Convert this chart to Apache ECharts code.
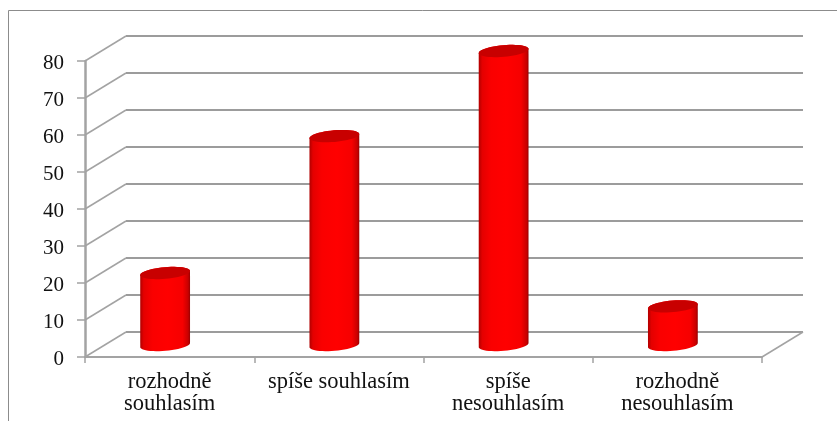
<!DOCTYPE html>
<html><head><meta charset="utf-8">
<style>html,body{margin:0;padding:0;background:#fff}#c{width:837px;height:421px}</style>
<script src="https://cdn.jsdelivr.net/npm/echarts@6/dist/echarts.min.js"></script>
</head><body><div id="c"></div>
<script>
const categories = ['rozhodně\nsouhlasím','spíše souhlasím','spíše\nnesouhlasím','rozhodně\nnesouhlasím'];
const values = [20, 57, 80, 11];
const yTicks = [0,10,20,30,40,50,60,70,80];

const DX = 41, DY = -25;          // depth of the 3D box
const GRAY = '#a3a3a3';
const chart = echarts.init(document.getElementById('c'), null, {renderer:'canvas'});

function wallLines(params, api){
  const v = api.value(0);
  const a = api.coord([0, v]);
  const x0 = params.coordSys.x, x1 = x0 + params.coordSys.width;
  const y = a[1];
  const kids = [
    {type:'line',shape:{x1:x0,y1:y,x2:x0+DX,y2:y+DY},style:{stroke:GRAY,lineWidth:1.5}},
    {type:'line',shape:{x1:x0+DX,y1:y+DY,x2:x1+DX,y2:y+DY},style:{stroke:'#9c9c9c',lineWidth:2}}
  ];
  if (v === 0) kids.push({type:'line',shape:{x1:x1,y1:y,x2:x1+DX,y2:y+DY},style:{stroke:GRAY,lineWidth:1.5}});
  return {type:'group',children:kids,silent:true};
}

function ellipsePts(cx,cy,rx,ry,rot,from,to,n){
  const out=[];
  for(let i=0;i<=n;i++){
    const t=from+(to-from)*i/n;
    const ex=rx*Math.cos(t), ey=ry*Math.sin(t);
    out.push([cx+ex*Math.cos(rot)-ey*Math.sin(rot), cy+ex*Math.sin(rot)+ey*Math.cos(rot)]);
  }
  return out;
}
function cylinder(params, api){
  const idx = api.value(0), v = api.value(1);
  const top = api.coord([idx, v]), base = api.coord([idx, 0]);
  const cx = base[0] - 4.5, rx = 25, ry = 5.8, rot = -5*Math.PI/180;
  const yb = base[1] - 12, yt = top[1] - 10;
  const lower = ellipsePts(cx,yb,rx,ry,rot,0,Math.PI,24);
  const upper = ellipsePts(cx,yt,rx,ry,rot,Math.PI,2*Math.PI,24);
  const grad = new echarts.graphic.LinearGradient(0,0,1,0,[
    {offset:0,color:'#b00000'},{offset:0.07,color:'#e40000'},{offset:0.25,color:'#fa0000'},
    {offset:0.55,color:'#ff0000'},{offset:0.85,color:'#f60000'},{offset:0.96,color:'#c80000'},{offset:1,color:'#980000'}]);
  return {type:'group',children:[
    {type:'polygon',shape:{points:lower.concat(upper)},style:{fill:grad}},
    {type:'polygon',shape:{points:ellipsePts(cx,yt,rx,ry,rot,0,2*Math.PI,48)},style:{fill:'#c80000'}}
  ]};
}

chart.setOption({
  animation:false,
  backgroundColor:'#fff',
  graphic:[{type:'polyline',silent:true,shape:{points:[[8.5,421],[8.5,10.5],[837,10.5]]},
            style:{stroke:'#8c8c8c',lineWidth:1,fill:null}}],
  grid:{left:85,top:61,width:677,height:296},
  xAxis:{type:'category',data:categories,boundaryGap:true,
    axisLine:{lineStyle:{color:GRAY,width:2}},
    axisTick:{show:true,length:6,lineStyle:{color:GRAY,width:1.5}},
    axisLabel:{interval:0,fontFamily:'Liberation Serif',fontSize:22.5,color:'#111',lineHeight:22,margin:14},
    splitLine:{show:false}},
  yAxis:{type:'value',min:0,max:80,interval:10,
    axisLine:{show:true,lineStyle:{color:GRAY,width:2.5}},
    axisTick:{show:true,length:8,lineStyle:{color:GRAY,width:1.5}},
    axisLabel:{fontFamily:'Liberation Serif',fontSize:21,color:'#111',margin:21,verticalAlign:'top',lineHeight:5},
    splitLine:{show:false}},
  series:[
    {type:'custom',name:'walls',data:yTicks.map(v=>[v]),renderItem:wallLines,encode:{y:0},silent:true,z:1,clip:false},
    {type:'custom',name:'values',data:values.map((v,i)=>[i,v]),renderItem:cylinder,encode:{x:0,y:1},z:3,clip:false}
  ]
});
</script></body></html>
